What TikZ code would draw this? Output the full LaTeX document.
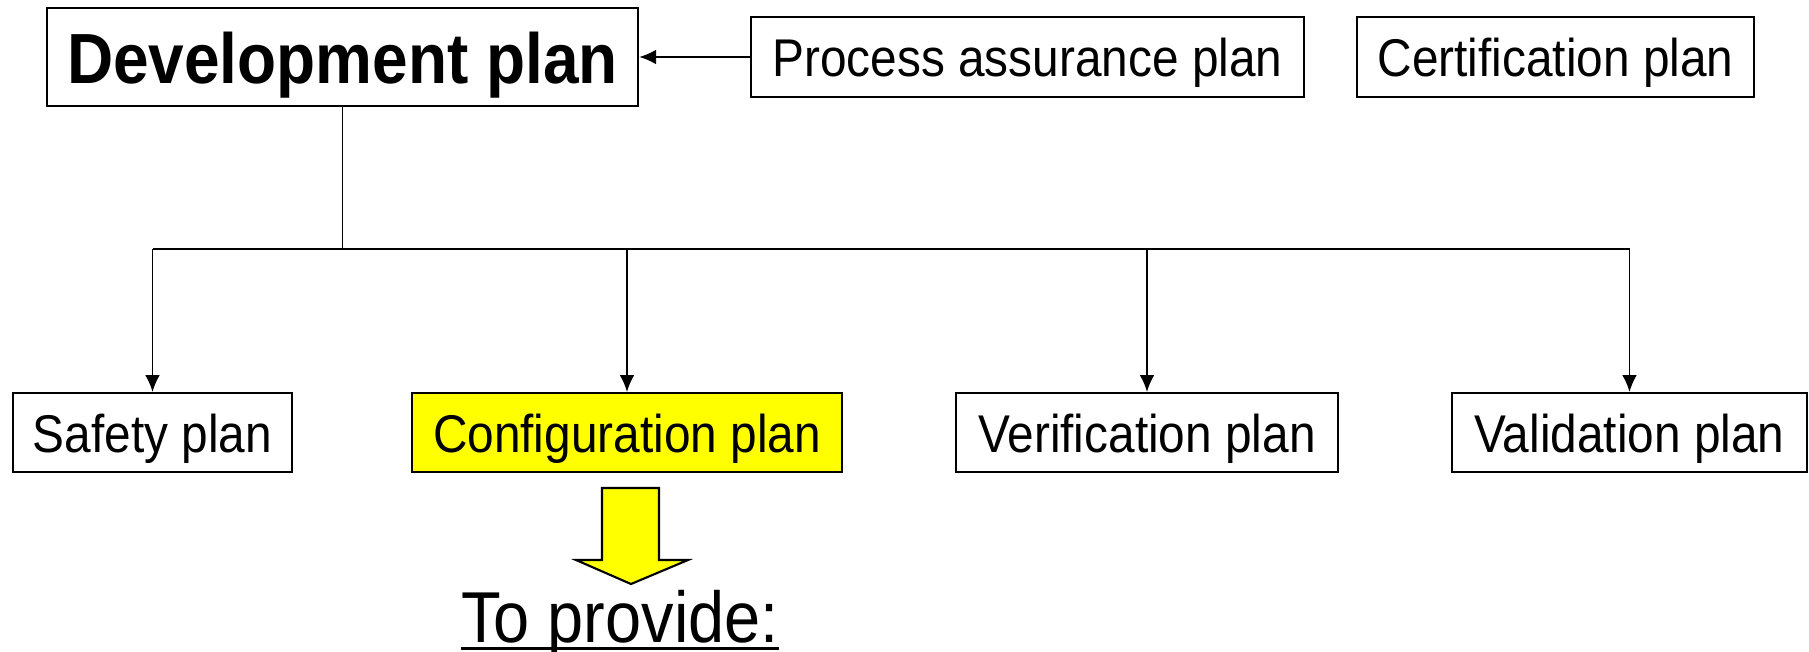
\documentclass[tikz,border=0pt]{standalone}
\usepackage{fontspec}
\setmainfont{Liberation Sans}[FakeStretch=0.9]
\usepackage{xcolor}
\usetikzlibrary{arrows.meta, positioning}
\definecolor{PlanYellow}{RGB}{255,255,0}
\tikzset{
  >={Latex[length=4.8pt,width=4.2pt]},
  % riquadri dei piani
  plan/.style={draw,line width=0.6pt,rectangle,inner sep=0,text height=0.39cm,text depth=0pt,
    font=\fontsize{15.1}{18}\selectfont},
  plan main/.style={plan,text height=0.52cm,font=\fontsize{20.2}{24}\selectfont\bfseries},
  plan hot/.style={plan,fill=PlanYellow},
  % connessioni
  connect/.style={line width=0.5pt},
  connect arrow/.style={->,line width=0.5pt}
}
\begin{document}
\begin{tikzpicture}[x=0.01cm,y=-0.01cm]
    \useasboundingbox (0,0) rectangle (1809,651);
    % piani in alto
    \node[plan main,minimum width=5.91cm,minimum height=0.98cm] (dev) at (342.5,57) {Development plan};
    \node[plan,minimum width=5.53cm,minimum height=0.80cm] (proc) at (1027.5,57) {Process assurance plan};
    \node[plan,minimum width=3.97cm,minimum height=0.80cm] (cert) at (1555.5,57) {Certification plan};
    % piani in basso
    \node[plan,minimum width=2.79cm,minimum height=0.79cm] (safety) at (152.5,432.5) {Safety plan};
    \node[plan hot,minimum width=4.30cm,minimum height=0.79cm] (config) at (627,432.5) {Configuration plan};
    \node[plan,minimum width=3.82cm,minimum height=0.79cm] (verif) at (1147,432.5) {Verification plan};
    \node[plan,minimum width=3.55cm,minimum height=0.79cm] (valid) at (1629.5,432.5) {Validation plan};
    % collegamenti
    \draw[connect arrow] (proc.west) -- (dev.east);
    \coordinate (bus) at (dev.south |- 0,249);
    \draw[connect] (dev.south) -- (bus);
    \draw[connect] (safety.north |- bus) -- (valid.north |- bus);
    \foreach \p in {safety,config,verif,valid}
      \draw[connect arrow] (\p.north |- bus) -- (\p.north);
    % freccia grossa
    \draw[line width=0.6pt,fill=PlanYellow]
      (602,488) -- (659,488) -- (659,560) -- (688,560) -- (631,584)
      -- (576,560) -- (602,560) -- cycle;
    \node[anchor=base,inner sep=0,font=\fontsize{20.5}{24}\selectfont] (todo) at (620,642) {To provide:};
    \draw[line width=1.1pt] ([yshift=-0.065cm]todo.base west) -- ([yshift=-0.065cm]todo.base east);
  \end{tikzpicture}
\end{document}
